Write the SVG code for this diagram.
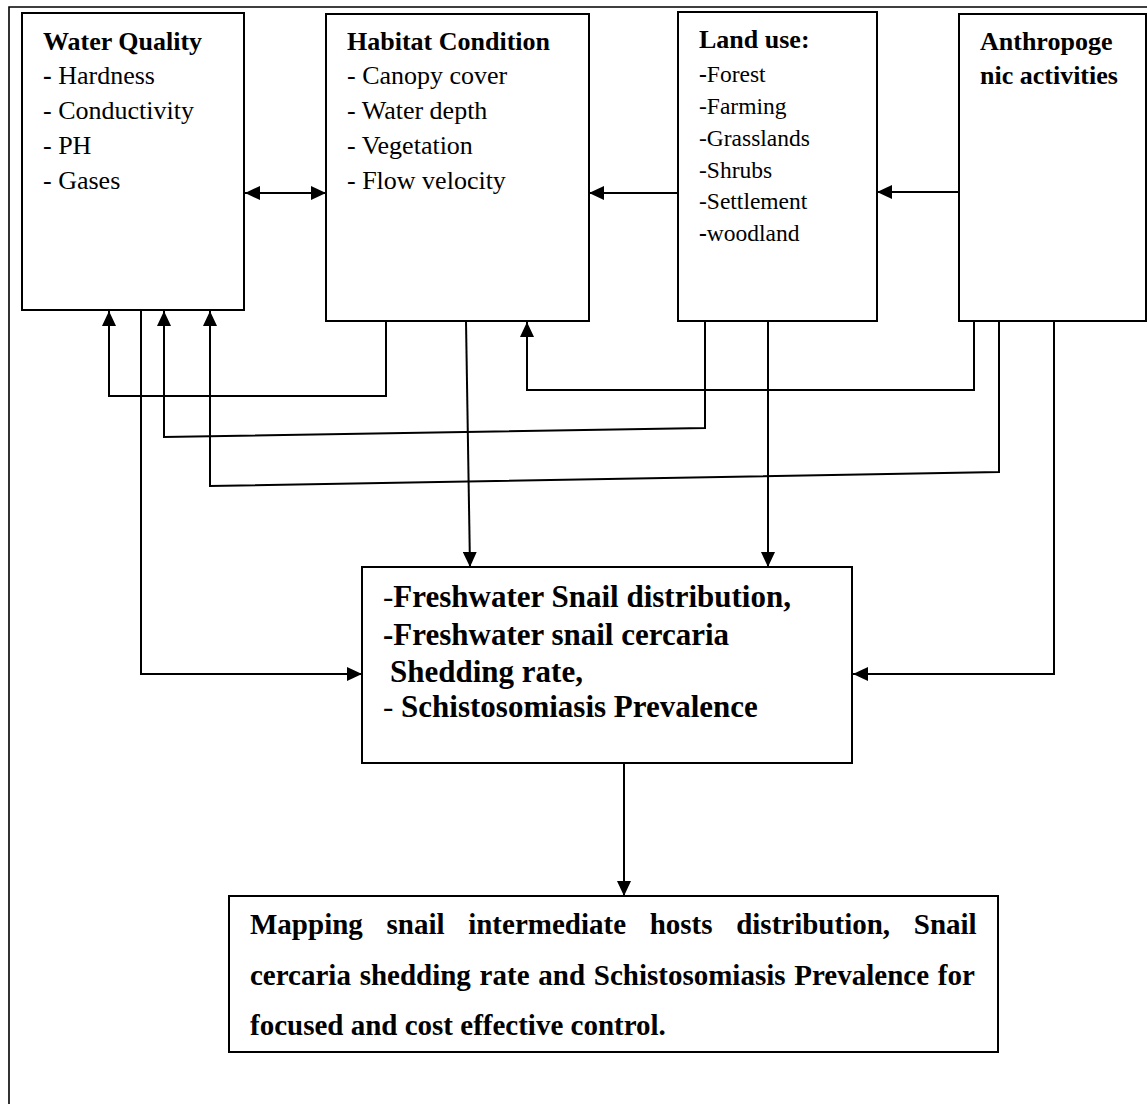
<svg xmlns="http://www.w3.org/2000/svg" width="1147" height="1104" viewBox="0 0 1147 1104">
<style>
  .box { fill: #ffffff; stroke: #000000; stroke-width: 2; }
  .conn { fill: none; stroke: #000000; stroke-width: 2; }
  .t { font-family: "Liberation Serif", "Times New Roman", serif; fill: #000000; }
  .h { font-size: 26px; font-weight: bold; }
  .r { font-size: 26px; }
  .lu { font-size: 23.5px; }
  .mid { font-size: 31px; font-weight: bold; }
  .bot { font-size: 29px; font-weight: bold; }
  .b { font-weight: bold; }
  .n { font-weight: normal; }
</style>
<defs>
  <marker id="arr" markerUnits="userSpaceOnUse" markerWidth="15" markerHeight="14" refX="15" refY="7" orient="auto-start-reverse">
    <path d="M0,0 L15,7 L0,14 z" fill="#000000"/>
  </marker>
</defs>
<rect width="1147" height="1104" fill="#ffffff"/>
<path d="M9,1104 V7 H1147" fill="none" stroke="#000000" stroke-width="1.6"/>

<g id="water-quality">
  <rect class="box" x="22" y="13" width="222" height="297"/>
  <text class="t h" x="43" y="50">Water Quality</text>
  <text class="t r" x="43" y="84"><tspan class="b">-</tspan> Hardness</text>
  <text class="t r" x="43" y="119">- Conductivity</text>
  <text class="t r" x="43" y="154">- PH</text>
  <text class="t r" x="43" y="189">- Gases</text>
</g>

<g id="habitat-condition">
  <rect class="box" x="326" y="14" width="263" height="307"/>
  <text class="t h" x="347" y="50">Habitat Condition</text>
  <text class="t r" x="347" y="84">- Canopy cover</text>
  <text class="t r" x="347" y="119">- Water depth</text>
  <text class="t r" x="347" y="154">- Vegetation</text>
  <text class="t r" x="347" y="189">- Flow velocity</text>
</g>

<g id="land-use">
  <rect class="box" x="678" y="12" width="199" height="309"/>
  <text class="t h" x="699" y="48">Land use:</text>
  <text class="t lu" x="699" y="82"><tspan class="b">-</tspan>Forest</text>
  <text class="t lu" x="699" y="114">-Farming</text>
  <text class="t lu" x="699" y="146">-Grasslands</text>
  <text class="t lu" x="699" y="178">-Shrubs</text>
  <text class="t lu" x="699" y="209">-Settlement</text>
  <text class="t lu" x="699" y="241"><tspan class="b">-</tspan>woodland</text>
</g>

<g id="anthropogenic">
  <rect class="box" x="959" y="14" width="187" height="307"/>
  <text class="t h" x="980" y="50">Anthropoge</text>
  <text class="t h" x="980" y="84">nic activities</text>
</g>

<g id="snail-outcomes">
  <rect class="box" x="362" y="567" width="490" height="196"/>
  <text class="t mid" x="383" y="607"><tspan class="n">-</tspan>Freshwater Snail distribution,</text>
  <text class="t mid" x="383" y="645">-Freshwater snail cercaria</text>
  <text class="t mid" x="390" y="682">Shedding rate,</text>
  <text class="t mid" x="383" y="717"><tspan class="n">- </tspan>Schistosomiasis Prevalence</text>
</g>

<g id="mapping">
  <rect class="box" x="229" y="896" width="769" height="156"/>
  <text class="t bot" y="934">
    <tspan x="250">Mapping</tspan>
    <tspan x="386.5">snail</tspan>
    <tspan x="468.2">intermediate</tspan>
    <tspan x="649.7">hosts</tspan>
    <tspan x="736.2">distribution,</tspan>
    <tspan x="913.8">Snail</tspan>
  </text>
  <text class="t bot" x="250" y="985" word-spacing="1.5">cercaria shedding rate and Schistosomiasis Prevalence for</text>
  <text class="t bot" x="250" y="1035">focused and cost effective control.</text>
</g>

<g id="connectors">
  <path class="conn" d="M245,193 H326" marker-start="url(#arr)" marker-end="url(#arr)"/>
  <path class="conn" d="M678,193 H589" marker-end="url(#arr)"/>
  <path class="conn" d="M959,192 H877" marker-end="url(#arr)"/>
  <path class="conn" d="M386,321 V396 H109 V311" marker-end="url(#arr)"/>
  <path class="conn" d="M705,321 V428 L164,437 V311" marker-end="url(#arr)"/>
  <path class="conn" d="M999,321 V472 L210,486 V311" marker-end="url(#arr)"/>
  <path class="conn" d="M974,321 V390 H527 V322" marker-end="url(#arr)"/>
  <path class="conn" d="M141,310 V674 H362" marker-end="url(#arr)"/>
  <path class="conn" d="M466,321 L470,567" marker-end="url(#arr)"/>
  <path class="conn" d="M768,321 V567" marker-end="url(#arr)"/>
  <path class="conn" d="M1054,321 V674 H853" marker-end="url(#arr)"/>
  <path class="conn" d="M624,764 V896" marker-end="url(#arr)"/>
</g>
</svg>
